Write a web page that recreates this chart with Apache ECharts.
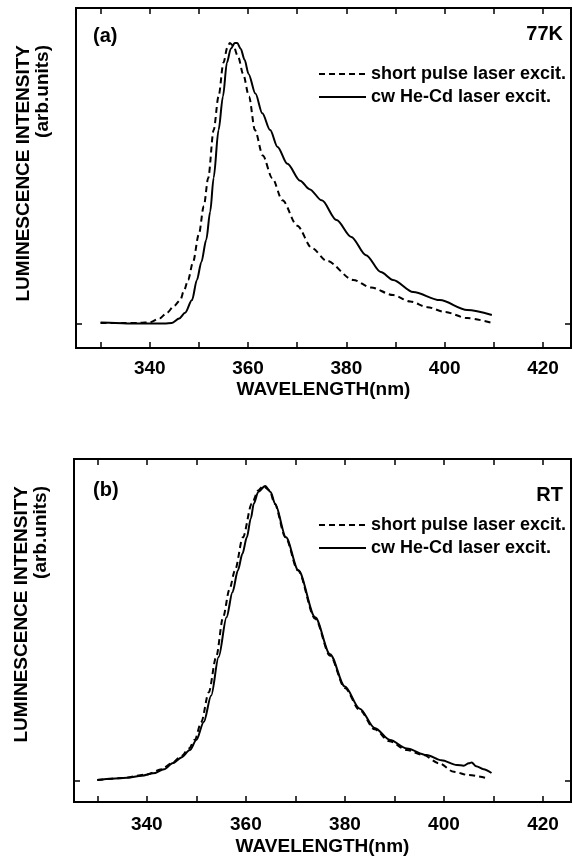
<!DOCTYPE html>
<html>
<head>
<meta charset="utf-8">
<script src="https://cdn.jsdelivr.net/npm/echarts@6/dist/echarts.min.js"></script>
<style>
html,body{margin:0;padding:0;background:#fff;}
#chart{width:573px;height:859px;}
</style>
</head>
<body>
<div id="chart"></div>
<script>
// ---- data ----
var xTickValues = [330, 340, 350, 360, 370, 380, 390, 400, 410, 420];
var xLabelValues = [340, 360, 380, 400, 420];
var seriesNames = ['short pulse laser excit.', 'cw He-Cd laser excit.'];

// panel (a) 77K
var aPulseX = [330, 335, 338, 340, 342, 343.5, 345, 346.2, 347, 347.8, 348.8, 350, 351, 351.9, 353, 354, 355, 355.8, 356.3, 357, 358, 359, 360.2, 361.4, 363, 364.9, 367, 370, 373, 376, 381.4, 385, 389.5, 393, 396.5, 400, 404.6, 409.6];
var aPulseY = [0.004, 0.004, 0.004, 0.006, 0.02, 0.04, 0.065, 0.085, 0.12, 0.157, 0.22, 0.32, 0.42, 0.52, 0.69, 0.81, 0.93, 0.985, 1.0, 0.99, 0.95, 0.89, 0.81, 0.69, 0.6, 0.52, 0.44, 0.35, 0.27, 0.225, 0.157, 0.13, 0.103, 0.08, 0.06, 0.043, 0.021, 0.004];
var aCwX = [330, 333, 336, 340, 343, 344.5, 346, 347.2, 348.6, 349.6, 350.5, 351.5, 352.3, 353, 354, 354.9, 355.7, 356.5, 357.3, 357.8, 358.5, 359.3, 360.1, 361.5, 362.9, 364.5, 366, 368, 370.6, 372.5, 375, 378, 381, 384, 387, 389.5, 393.6, 399, 404.6, 409.6];
var aCwY = [0.005, 0.004, 0.002, 0.002, 0.002, 0.004, 0.02, 0.04, 0.085, 0.157, 0.22, 0.3, 0.4, 0.52, 0.69, 0.81, 0.93, 0.98, 1.0, 1.0, 0.98, 0.94, 0.89, 0.82, 0.75, 0.69, 0.63, 0.57, 0.51, 0.48, 0.44, 0.37, 0.31, 0.245, 0.185, 0.157, 0.114, 0.085, 0.05, 0.032];

// panel (b) RT
var bPulseX = [330, 335, 340, 343, 345, 347, 348.5, 349.7, 351, 352.5, 354, 355.4, 356.7, 357.8, 359.4, 361.2, 362.5, 363.5, 364.8, 365.8, 368, 370.5, 374, 377, 380, 383, 386, 389, 392.5, 395.8, 399, 402, 405, 408.6];
var bPulseY = [0.003, 0.01, 0.022, 0.04, 0.06, 0.085, 0.11, 0.14, 0.2, 0.3, 0.42, 0.555, 0.65, 0.714, 0.826, 0.94, 0.985, 1.0, 0.985, 0.94, 0.826, 0.714, 0.55, 0.425, 0.315, 0.24, 0.175, 0.135, 0.105, 0.088, 0.06, 0.031, 0.02, 0.01];
var bCwX = [330, 333, 336, 339, 341.3, 343.5, 345.3, 347, 348.7, 350, 351.5, 353, 354.5, 356.1, 357.3, 358.4, 359.3, 360.2, 361, 361.6, 362.5, 363.9, 365, 365.9, 368.1, 370.6, 374, 377, 380, 383, 386, 389.1, 392.5, 396.5, 399.5, 402.6, 404, 405, 405.6, 406.5, 408, 409.6];
var bCwY = [0.003, 0.008, 0.011, 0.018, 0.026, 0.04, 0.061, 0.08, 0.105, 0.139, 0.2, 0.29, 0.42, 0.555, 0.64, 0.714, 0.77, 0.826, 0.89, 0.94, 0.98, 1.0, 0.98, 0.94, 0.826, 0.714, 0.555, 0.43, 0.32, 0.245, 0.18, 0.139, 0.11, 0.088, 0.07, 0.054, 0.052, 0.06, 0.063, 0.05, 0.04, 0.027];

// ---- build ----
function pairs(xs, ys) { return xs.map(function (x, i) { return [x, ys[i]]; }); }

var FONT = 'Liberation Sans, Arial, Helvetica, sans-serif';
var txt = function (size) { return { color: '#000', fontSize: size, fontWeight: 'bold', fontFamily: FONT }; };

var panels = [
  { top: 8, left: 76, width: 495, height: 340, xmin: 325.0, xmax: 425.7, ymin: -0.0854, ymax: 1.1246, pulse: pairs(aPulseX, aPulseY), cw: pairs(aCwX, aCwY), labelMargin: 11, nameGap: 32 },
  { top: 459, left: 74, width: 497, height: 343, xmin: 325.3, xmax: 425.65, ymin: -0.0712, ymax: 1.0915, pulse: pairs(bPulseX, bPulseY), cw: pairs(bCwX, bCwY), labelMargin: 13, nameGap: 35 }
];

var option = { animation: false, backgroundColor: '#fff', grid: [], xAxis: [], yAxis: [], series: [], legend: [], graphic: [] };

panels.forEach(function (p, i) {
  option.grid.push({ left: p.left, top: p.top, width: p.width, height: p.height, show: true, borderColor: '#000', borderWidth: 2, backgroundColor: 'transparent' });
  var tick = { show: true, inside: true, length: 6, customValues: xTickValues, lineStyle: { color: '#000', width: 1.5 } };
  option.xAxis.push({
    type: 'value', gridIndex: i, position: 'bottom', min: p.xmin, max: p.xmax,
    axisLine: { show: false, onZero: false }, splitLine: { show: false }, axisTick: tick,
    axisLabel: Object.assign({ customValues: xLabelValues, margin: p.labelMargin }, txt(19)),
    name: 'WAVELENGTH(nm)', nameLocation: 'middle', nameGap: p.nameGap, nameTextStyle: txt(19)
  });
  option.xAxis.push({
    type: 'value', gridIndex: i, position: 'top', min: p.xmin, max: p.xmax,
    axisLine: { show: false, onZero: false }, splitLine: { show: false }, axisTick: tick, axisLabel: { show: false }
  });
  var ytick = { show: true, inside: true, length: 6, customValues: [0], lineStyle: { color: '#000', width: 1.5 } };
  option.yAxis.push({ type: 'value', gridIndex: i, position: 'left', min: p.ymin, max: p.ymax, axisLine: { show: false, onZero: false }, splitLine: { show: false }, axisTick: ytick, axisLabel: { show: false } });
  option.yAxis.push({ type: 'value', gridIndex: i, position: 'right', min: p.ymin, max: p.ymax, axisLine: { show: false, onZero: false }, splitLine: { show: false }, axisTick: ytick, axisLabel: { show: false } });

  option.series.push({
    name: seriesNames[0], type: 'line', xAxisIndex: 2 * i, yAxisIndex: 2 * i, data: p.pulse,
    symbol: 'none', smooth: 0.3, smoothMonotone: 'x', lineStyle: { color: '#000', width: 2, type: [6, 4] }, itemStyle: { color: '#000' }
  });
  option.series.push({
    name: seriesNames[1], type: 'line', xAxisIndex: 2 * i, yAxisIndex: 2 * i, data: p.cw,
    symbol: 'none', smooth: 0.3, smoothMonotone: 'x', lineStyle: { color: '#000', width: 2 }, itemStyle: { color: '#000' }
  });
});

var legendBase = { left: 313, orient: 'vertical', itemWidth: 47, itemHeight: 14, itemGap: 5, data: seriesNames, textStyle: txt(18), selectedMode: false, itemStyle: { opacity: 0, borderWidth: 0 } };
option.legend.push(Object.assign({ top: 60 }, legendBase));
option.legend.push(Object.assign({ top: 511 }, legendBase));

function gtext(x, y, s, align, rot, size) {
  return { type: 'text', x: x, y: y, rotation: rot || 0, style: { text: s, fill: '#000', font: 'bold ' + size + 'px ' + FONT, textAlign: align, textVerticalAlign: 'middle' } };
}
option.graphic = [
  gtext(93, 36, '(a)', 'left', 0, 20),
  gtext(563, 34, '77K', 'right', 0, 20),
  gtext(93, 490, '(b)', 'left', 0, 20),
  gtext(563, 495, 'RT', 'right', 0, 20),
  gtext(24, 45, 'LUMINESCENCE INTENSITY', 'right', Math.PI / 2, 19),
  gtext(43, 45, '(arb.units)', 'right', Math.PI / 2, 19),
  gtext(22, 486, 'LUMINESCENCE INTENSITY', 'right', Math.PI / 2, 19),
  gtext(41, 486, '(arb.units)', 'right', Math.PI / 2, 19)
];

var chart = echarts.init(document.getElementById('chart'), null, { renderer: 'canvas' });
chart.setOption(option);
</script>
</body>
</html>
